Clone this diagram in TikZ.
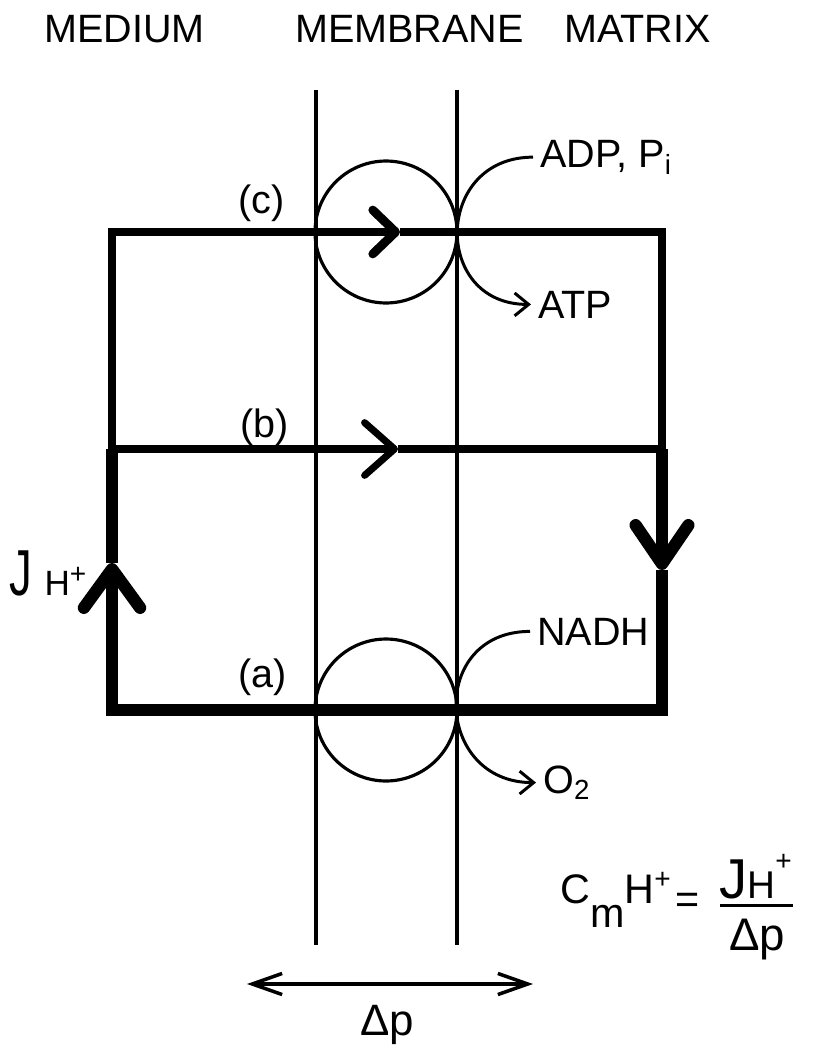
\documentclass[tikz,border=0pt]{standalone}
\usepackage{fontspec}
\setmainfont{Liberation Sans}
\usepackage{tikz}
\usetikzlibrary{arrows.meta}

\tikzset{
  txt/.style={inner sep=0pt, font=\fontsize{22.5}{27}\selectfont},
  chem/.style={txt, inner xsep=4pt},
  wall/.style={line width=2pt},
  pump/.style={draw, circle, line width=1.8pt, minimum size=2.84cm, inner sep=0pt},
  heavy/.style={line width=7pt},
  medium/.style={line width=5pt},
  flow/.style={line width=1.7pt, -{Straight Barb[length=8pt,width=13pt]}},
}

\begin{document}
\begin{tikzpicture}[x=0.02cm, y=-0.02cm]
  \useasboundingbox (0,0) rectangle (812,1051);
  % compartments
  \node[txt, anchor=base west] (medium) at (44,43) {MEDIUM};
  \node[txt, anchor=base west] (membrane) at (295,43) {MEMBRANE};
  \node[txt, anchor=base west] (matrix) at (564,43) {MATRIX};
  % the two faces of the membrane
  \draw[wall] (316,90) -- (316,945);
  \draw[wall] (457,90) -- (457,945);
  % pumps
  \node[pump] (atpase) at (386,232) {};
  \node[pump] (resp) at (386,710) {};
  % corners of the proton circuit
  \coordinate (cl) at (112,232);
  \coordinate (cr) at (662,232);
  \coordinate (bl) at (112,449);
  \coordinate (br) at (662,449);
  \coordinate (al) at (112,710);
  \coordinate (ar) at (662,710);
  \coordinate (ctip) at (400,232);
  \coordinate (btip) at (398,449);
  \coordinate (rtip) at (662,570);
  \coordinate (ltip) at (112,563);
  \draw[heavy, -{Straight Barb[length=22pt,width=30pt,round]}] (br) -- (rtip);
  \draw[heavy, -{Straight Barb[length=22pt,width=32pt,round]}] (rtip) -- (ar) -- (al) -- (ltip);
  \draw[heavy] (ltip) -- (bl);
  \draw[medium, -{Straight Barb[length=13pt,width=25pt,round]}] (bl) -- (cl) -- (ctip);
  \draw[medium] (ctip) -- (cr) -- (br);
  \draw[line width=4pt, -{Straight Barb[length=17pt,width=30pt,round]}] (bl) -- (btip);
  \draw[line width=4pt] (btip) -- (br);
  \node[txt, anchor=base west] (labc) at (238,213) {(c)};
  \node[txt, anchor=base west] (labb) at (240,437) {(b)};
  \node[txt, anchor=base west] (laba) at (238,687) {(a)};
  % substrates and products
  \node[chem, anchor=base west] (adp) at (533,167) {ADP, P\textsubscript{i}};
  \node[chem, anchor=base west] (atp) at (531,318) {ATP};
  \node[chem, anchor=base west] (nadh) at (530,645) {NADH};
  \node[chem, anchor=base west] (o2) at (536,793) {O\textsubscript{2}};
  \draw[flow] (adp.west) .. controls +(-99,0) and +(-99,0) .. (atp.west);
  \draw[flow] (nadh.west) .. controls +(-102,0) and +(-102,0) .. (o2.west);
  % proton flux
  \node[txt, anchor=base west] (flux) at (9,595)
    {\scalebox{0.7}[1]{\fontsize{37}{40}\selectfont J}\hspace{0.25cm}{\fontsize{20}{24}\selectfont H}\raisebox{0.24cm}{\fontsize{16}{18}\selectfont +}};
  % proton conductance
  \node[txt, font=\fontsize{23.5}{28}\selectfont, anchor=base west] (cmh) at (560,903)
    {C\raisebox{-0.48cm}{m}H\raisebox{0.3cm}{\fontsize{16}{18}\selectfont +}};
  \node[txt, font=\fontsize{23.5}{28}\selectfont] (eq) at (688,903) {=};
  \node[txt, anchor=base west] (num) at (719,898)
    {{\fontsize{32}{34}\selectfont J}{\fontsize{22}{26}\selectfont H}\raisebox{0.55cm}{\fontsize{16}{18}\selectfont +}};
  \node[txt, font=\fontsize{26}{30}\selectfont, anchor=base] (den) at (757,950) {Δp};
  \coordinate (barl) at (720,905);
  \coordinate (barr) at (793,905);
  \draw[line width=1.7pt] (barl) -- (barr);
  % potential across the membrane
  \coordinate (gl) at (247,984);
  \coordinate (gr) at (533,984);
  \draw[wall, {Straight Barb[length=17pt,width=12pt]}-{Straight Barb[length=17pt,width=12pt]}] (gl) -- (gr);
  \node[txt, font=\fontsize{25}{30}\selectfont, anchor=base] (dp) at (387,1035) {Δp};
\end{tikzpicture}
\end{document}
